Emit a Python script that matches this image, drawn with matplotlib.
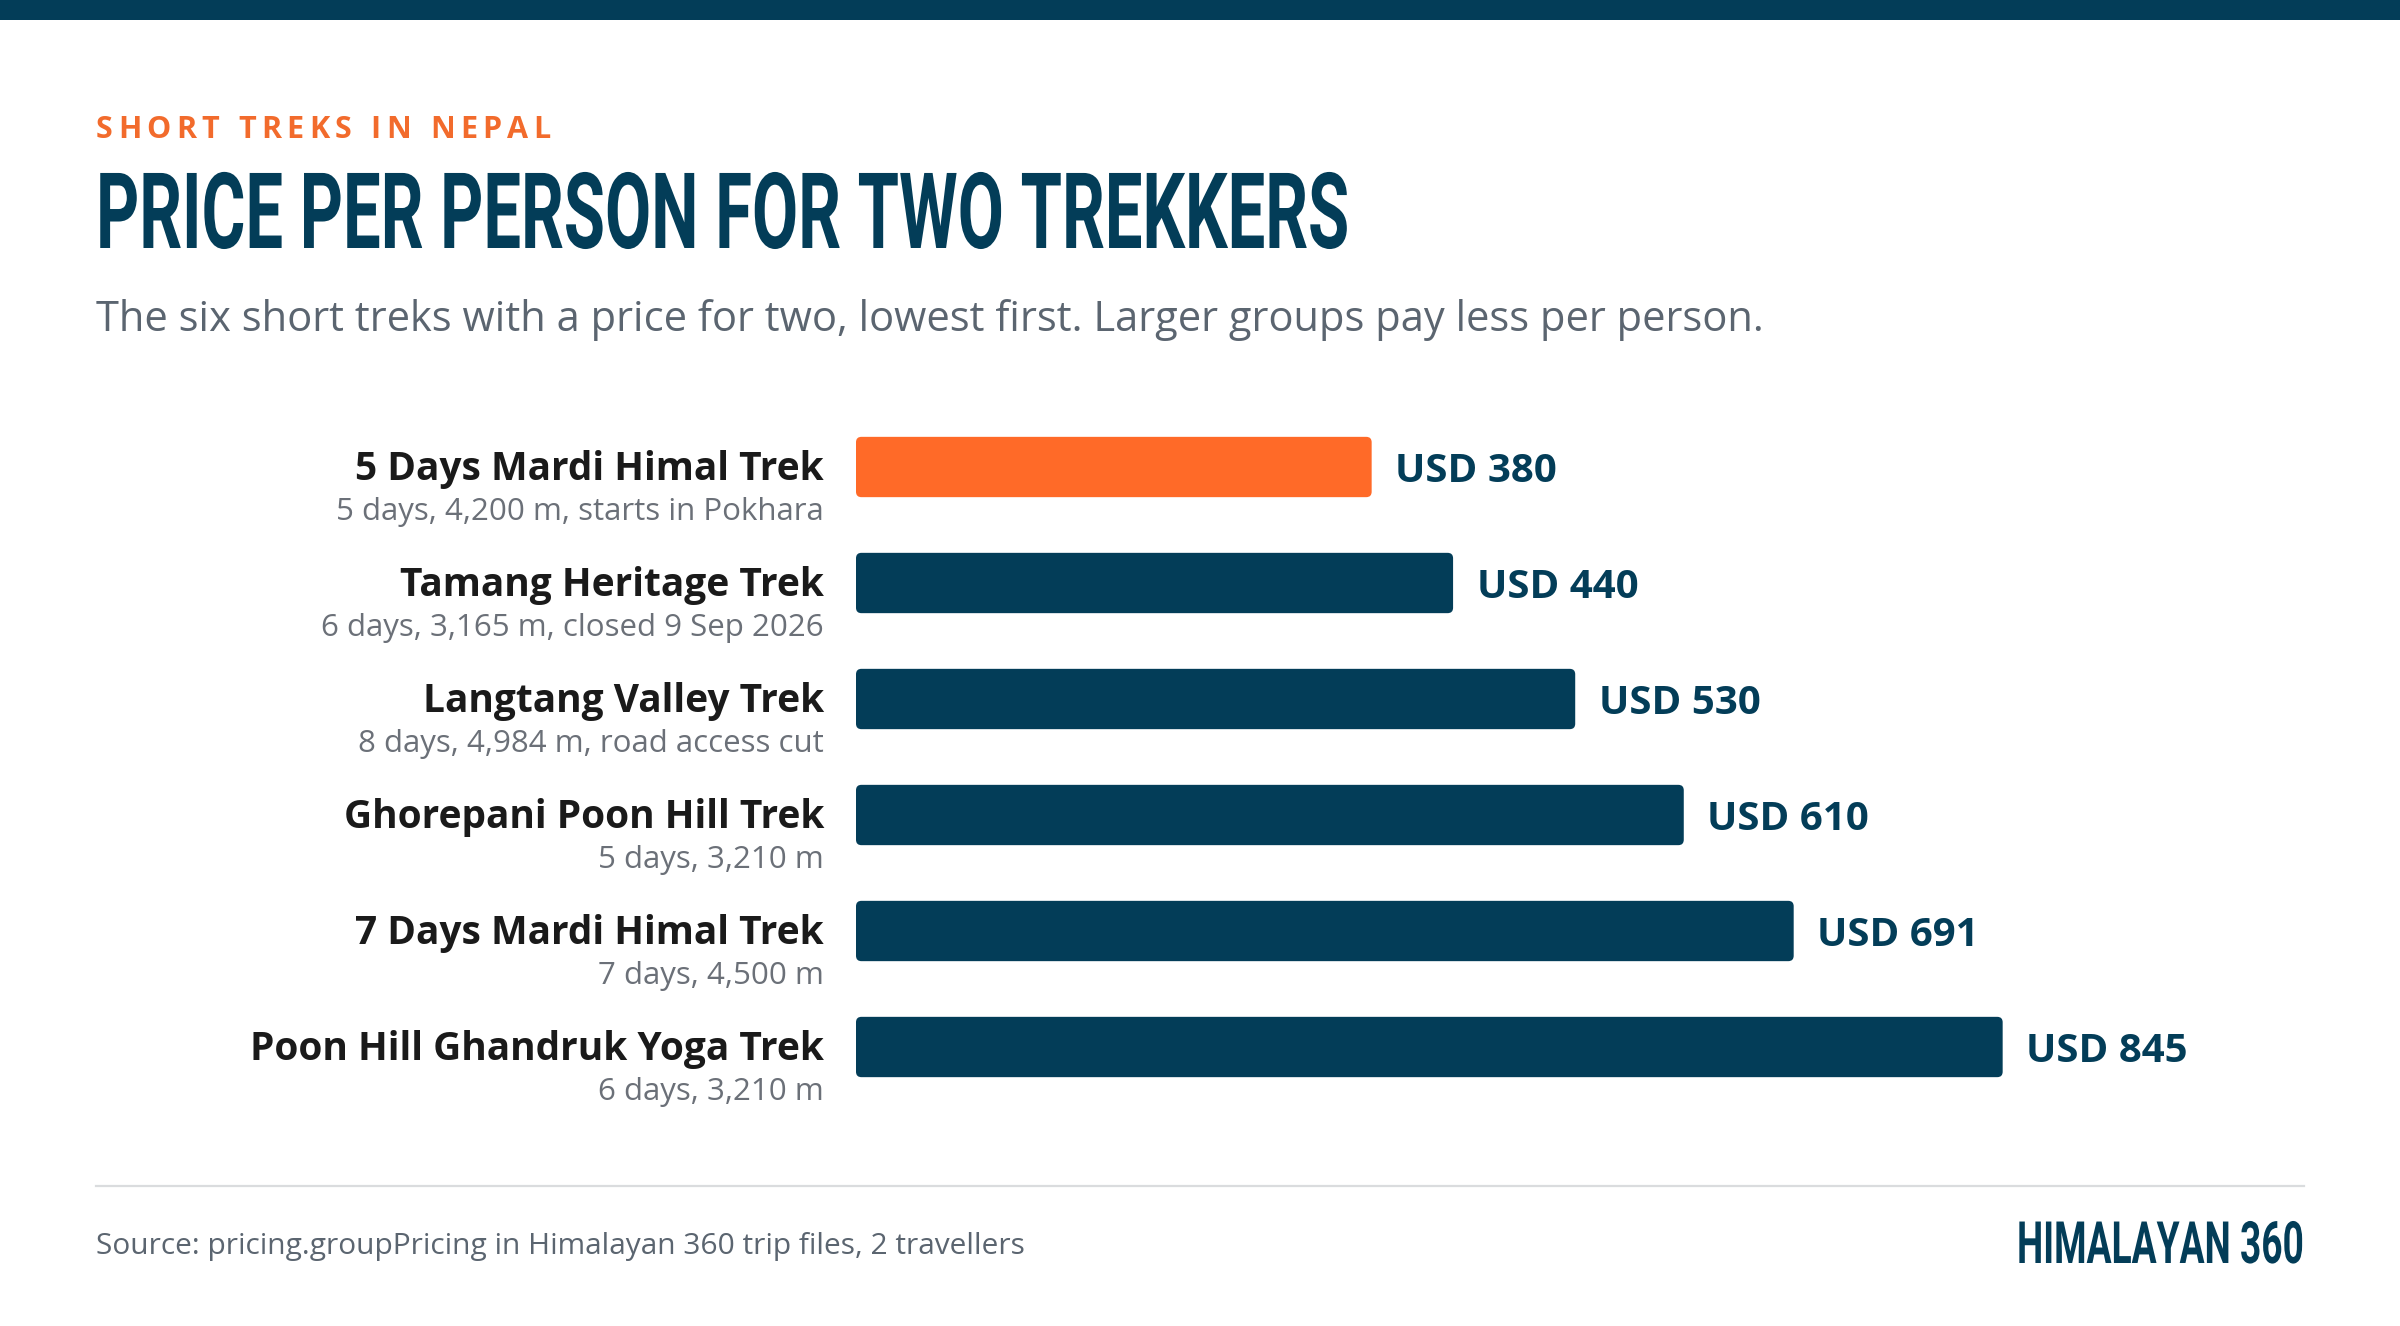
import matplotlib
matplotlib.use("Agg")
import matplotlib.pyplot as plt
from matplotlib.patches import FancyBboxPatch
from matplotlib.patheffects import AbstractPathEffect
from matplotlib.transforms import Affine2D

treks = ["5 Days Mardi Himal Trek", "Tamang Heritage Trek", "Langtang Valley Trek",
         "Ghorepani Poon Hill Trek", "7 Days Mardi Himal Trek", "Poon Hill Ghandruk Yoga Trek"]
details = ["5 days, 4,200 m, starts in Pokhara", "6 days, 3,165 m, closed 9 Sep 2026",
           "8 days, 4,984 m, road access cut", "5 days, 3,210 m", "7 days, 4,500 m", "6 days, 3,210 m"]
prices = [380, 440, 530, 610, 691, 845]

NAVY = "#033d58"
ORANGE = "#ff6a28"
KICK = "#f26b2c"
body = "Open Sans"


class Squeeze(AbstractPathEffect):
    # narrow the glyphs horizontally around x0 (display px), text stays a Text artist
    def __init__(self, sx, x0):
        super().__init__()
        self.sx, self.x0 = sx, x0

    def draw_path(self, renderer, gc, tpath, affine, rgbFace=None):
        tr = affine + Affine2D().translate(-self.x0, 0).scale(self.sx, 1).translate(self.x0, 0)
        renderer.draw_path(gc, tpath, tr, rgbFace)


W, H = 2400, 1326
fig = plt.figure(figsize=(24, 13.26), dpi=100, facecolor="white")
renderer = fig.canvas.get_renderer()

def fy(px):
    return 1 - px / H

def fx(px):
    return px / W

def narrow_text(x, y, s, width, ha="left", **kw):
    t = fig.text(fx(x), fy(y), s, ha=ha, va="baseline", **kw)
    w = t.get_window_extent(renderer).width
    t.set_path_effects([Squeeze(width / w, x)])
    return t

# top band
fig.patches.append(plt.Rectangle((0, fy(20)), 1, 20 / H, transform=fig.transFigure,
                                 color=NAVY, lw=0))

# kicker with letter spacing
kicker = "SHORT TREKS IN NEPAL"
chars = [fig.text(0, fy(138), ch, fontsize=22, fontweight="bold", color=KICK,
                  family=body, va="baseline", ha="left") for ch in kicker]
widths = [c.get_window_extent(renderer).width if ch != " " else 9 for c, ch in zip(chars, kicker)]
gap = (454 - sum(widths)) / (len(kicker) - 1)
x = 96
for c, w in zip(chars, widths):
    c.set_x(fx(x))
    x += w + gap

narrow_text(96, 248, "PRICE PER PERSON FOR TWO TREKKERS", 1253, fontsize=76,
            fontweight="bold", color=NAVY, family="Roboto")
fig.text(fx(96), fy(331),
         "The six short treks with a price for two, lowest first. Larger groups pay less per person.",
         fontsize=30, color="#5b6570", family=body, va="baseline")

# bars
ax = fig.add_axes([fx(856), fy(1105), fx(2304 - 856), (1105 - 409) / H])
ax.set_xlim(0, (2304 - 856) / 1.357)
ax.set_ylim(len(prices) - 0.5, -0.5)
ax.axis("off")

colors = [ORANGE] + [NAVY] * (len(prices) - 1)
bars = ax.barh(range(len(prices)), prices, height=0.52, color=colors)
aspect = (1 / 116) / (1 / 1.357)
for b, c in zip(bars, colors):
    b.set_visible(False)
    ax.add_patch(FancyBboxPatch((b.get_x(), b.get_y()), b.get_width(), b.get_height(),
                                boxstyle="round,pad=0,rounding_size=4", mutation_aspect=aspect,
                                fc=c, ec="none"))

for i, (name, det, p) in enumerate(zip(treks, details, prices)):
    ax.annotate(name, (0, i), xytext=(-23, -9.5), textcoords="offset points", ha="right",
                va="baseline", fontsize=28, fontweight="bold", color="#1a1a1a", family=body)
    ax.annotate(det, (0, i), xytext=(-23, -38), textcoords="offset points", ha="right",
                va="baseline", fontsize=22.5, color="#6b7078", family=body)
    ax.annotate(f"USD {p}", (p, i), xytext=(17, -10.5), textcoords="offset points", ha="left",
                va="baseline", fontsize=29, fontweight="bold", color=NAVY, family=body)

# footer
fig.add_artist(plt.Line2D([fx(96), fx(2304)], [fy(1186), fy(1186)], color="#dadcde", lw=1.6,
                          transform=fig.transFigure))
fig.text(fx(96), fy(1254), "Source: pricing.groupPricing in Himalayan 360 trip files, 2 travellers",
         fontsize=21.5, color="#5b6570", family=body, va="baseline")
narrow_text(2304, 1263, "HIMALAYAN 360", 287, ha="right", fontsize=42, fontweight="bold",
            color=NAVY, family="Roboto")

fig.savefig("out.png", dpi=100, facecolor="white")
